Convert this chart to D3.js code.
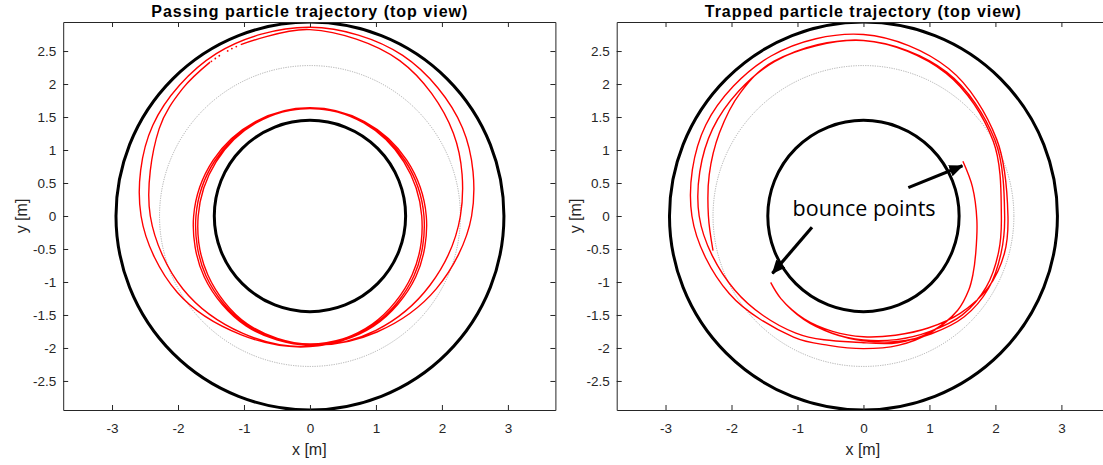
<!DOCTYPE html>
<html><head><meta charset="utf-8">
<script src="https://cdn.jsdelivr.net/npm/d3@7"></script>
<style>
body{margin:0;background:#fff;}
svg{display:block;}
</style></head><body>
<svg id="chart" width="1103" height="465"></svg>
<script>
// ---------------- data ----------------
const xTicks = [-3, -2, -1, 0, 1, 2, 3];
const xTickLabels = ["-3", "-2", "-1", "0", "1", "2", "3"];
const yTicks = [-2.5, -2, -1.5, -1, -0.5, 0, 0.5, 1, 1.5, 2, 2.5];
const yTickLabels = ["-2.5", "-2", "-1.5", "-1", "-0.5", "0", "0.5", "1", "1.5", "2", "2.5"];
const titles = ["Passing particle trajectory (top view)", "Trapped particle trajectory (top view)"];
const xLabel = "x [m]";
const yLabel = "y [m]";
const wallRadii = [1.45, 2.94];     // inner and outer wall (black)
const axisRadii = [2.28];           // magnetic axis (grey dotted)

// passing particle: toroidal angle (deg, unwrapped) and major radius [m]
const passAngles = [123,135,150,180,210,240,270,
  300,330,360,390,420,450,480,510,540,570,600,630,
  660,690,720,750,780,810,840,870,900,930,960,990,
  1020,1050,1080,1110,1140,1170,1200,1230,1260,1290,1320,1350,
  1380,1410,1440,1470,1500,1530,1560,1590,1620,1650,1680,1710,
  1740,1770,1800,1830,1860,1890,1912];
const passRadii = [2.78,2.73,2.64,2.42,2.22,2.05,1.975,
  1.891,1.787,1.694,1.643,1.63,1.63,1.63,1.643,1.694,1.787,1.891,1.94,
  1.91,1.819,1.728,1.667,1.638,1.63,1.638,1.667,1.728,1.819,1.91,1.95,
  2.03,2.21,2.45,2.67,2.81,2.86,2.84,2.75,2.56,2.32,2.08,1.98,
  1.928,1.85,1.763,1.694,1.652,1.64,1.652,1.694,1.763,1.85,1.928,1.96,
  2.00,2.10,2.28,2.51,2.72,2.825,2.80];
const passDotAngles = [113.5, 115, 116.5, 119.5, 121, 122.5];
const passDotRadii = [2.80, 2.80, 2.795, 2.79, 2.785, 2.78];

// trapped particle: toroidal angle (deg, unwrapped) and major radius [m]
const trapAngles = [
  193,180,165,150,135,120,90,60,30,0,-15,-30,-45,-60,-75,-90,-105,-120,-135,-144.4,
  -135,-120,-105,-90,-75,-60,-45,-30,-15,0,30,60,90,120,150,180,210,240,255,270,285,300,315,325,332,342,358,375,388.8,
  375,358,342,332,325,315,300,285,270,240,210,180,150,120,90,60,30,0,-15,-30,-45,-60,-75,-90,-105,-120,-135,-144.4];
const trapRadii = [
  2.34,2.35,2.42,2.52,2.64,2.71,2.66,2.52,2.30,2.14,2.16,2.19,2.16,2.06,1.97,1.89,1.84,1.81,1.77,1.73,
  1.77,1.80,1.81,1.83,1.87,1.96,2.08,2.18,2.21,2.19,2.33,2.58,2.75,2.80,2.76,2.60,2.35,2.12,2.03,2.01,2.03,2.04,2.02,1.95,1.88,1.79,1.72,1.71,1.72,
  1.71,1.72,1.79,1.88,1.95,2.02,2.03,1.99,1.92,2.05,2.25,2.49,2.64,2.70,2.66,2.50,2.27,2.09,2.12,2.15,2.12,2.02,1.94,1.88,1.84,1.80,1.77,1.73];

const arrowTails = [[0.68, 0.43], [-0.78, -0.17]];
const arrowTips = [[1.50, 0.76], [-1.38, -0.87]];
const noteText = "bounce points";
const notePos = [0.01, 0.0];

// ---------------- layout ----------------
const panelX0 = [63.2, 616.7];
const plotW = 492.2, plotTop = 22, plotBottom = 410;
const xDomain = [-3.74, 3.72], yDomain = [-2.94, 2.94];
const axisColor = "#262626";

const svg = d3.select("#chart");
const defs = svg.append("defs");
defs.append("marker").attr("id", "arrowHead")
  .attr("markerUnits", "userSpaceOnUse")
  .attr("viewBox", "0 0 14 12").attr("refX", 13).attr("refY", 6)
  .attr("markerWidth", 14).attr("markerHeight", 12).attr("orient", "auto")
  .append("path").attr("d", "M0,0L14,6L0,12Z").attr("fill", "#000");

function polar(angles, radii) {
  return angles.map((a, i) => [radii[i] * Math.cos(a * Math.PI / 180), radii[i] * Math.sin(a * Math.PI / 180)]);
}

[0, 1].forEach(p => {
  const x0 = panelX0[p];
  const x = d3.scaleLinear().domain(xDomain).range([x0, x0 + plotW]);
  const y = d3.scaleLinear().domain(yDomain).range([plotBottom, plotTop]);
  const g = svg.append("g");

  defs.append("clipPath").attr("id", "clip" + p).append("rect")
    .attr("x", x0).attr("y", plotTop).attr("width", plotW).attr("height", plotBottom - plotTop);
  const plot = g.append("g").attr("clip-path", `url(#clip${p})`);

  const kx = x(1) - x(0), ky = y(0) - y(1);
  plot.selectAll("ellipse.wall").data(wallRadii).enter().append("ellipse")
    .attr("cx", x(0)).attr("cy", y(0)).attr("rx", d => d * kx).attr("ry", d => d * ky)
    .attr("fill", "none").attr("stroke", "#000").attr("stroke-width", 3);
  plot.selectAll("ellipse.axisc").data(axisRadii).enter().append("ellipse")
    .attr("cx", x(0)).attr("cy", y(0)).attr("rx", d => d * kx).attr("ry", d => d * ky)
    .attr("fill", "none").attr("stroke", "#9a9a9a").attr("stroke-width", 0.8)
    .attr("stroke-dasharray", "1.2,1.2");

  const line = d3.line().x(d => x(d[0])).y(d => y(d[1])).curve(d3.curveCatmullRom.alpha(0.5));
  if (p === 0) {
    plot.append("path").attr("d", line(polar(passAngles, passRadii)))
      .attr("fill", "none").attr("stroke", "#ff0000").attr("stroke-width", 1.4);
    plot.selectAll("circle.dot").data(polar(passDotAngles, passDotRadii)).enter().append("circle")
      .attr("cx", d => x(d[0])).attr("cy", d => y(d[1])).attr("r", 0.9).attr("fill", "#ff0000");
  } else {
    plot.append("path").attr("d", line(polar(trapAngles, trapRadii)))
      .attr("fill", "none").attr("stroke", "#ff0000").attr("stroke-width", 1.4);
    plot.selectAll("line.arrow").data(arrowTails).enter().append("line")
      .attr("x1", d => x(d[0])).attr("y1", d => y(d[1]))
      .attr("x2", (d, i) => x(arrowTips[i][0])).attr("y2", (d, i) => y(arrowTips[i][1]))
      .attr("stroke", "#000").attr("stroke-width", 3.2).attr("marker-end", "url(#arrowHead)");
    plot.append("text").attr("x", x(notePos[0])).attr("y", y(notePos[1]))
      .attr("text-anchor", "middle").attr("font-family", "Open Sans")
      .attr("font-size", "21.5px").attr("fill", "#000").text(noteText);
  }

  const style = sel => {
    sel.select(".domain").attr("stroke", axisColor).attr("stroke-width", 1);
    sel.selectAll(".tick line").attr("stroke", axisColor).attr("stroke-width", 1);
    sel.selectAll(".tick text").attr("fill", axisColor)
      .attr("font-family", "Liberation Sans, Arial, sans-serif").attr("font-size", "13.5px");
  };
  g.append("g").attr("transform", `translate(0,${plotBottom})`)
    .call(d3.axisBottom(x).tickValues(xTicks).tickSizeInner(-5).tickSizeOuter(0).tickPadding(13)
      .tickFormat((d, i) => xTickLabels[i])).call(style);
  g.append("g").attr("transform", `translate(0,${plotTop})`)
    .call(d3.axisTop(x).tickValues(xTicks).tickSizeInner(-5).tickSizeOuter(0).tickFormat(() => ""))
    .call(style);
  g.append("g").attr("transform", `translate(${x0},0)`)
    .call(d3.axisLeft(y).tickValues(yTicks).tickSizeInner(-5).tickSizeOuter(0).tickPadding(7)
      .tickFormat((d, i) => yTickLabels[i])).call(style);
  g.append("g").attr("transform", `translate(${x0 + plotW},0)`)
    .call(d3.axisRight(y).tickValues(yTicks).tickSizeInner(-5).tickSizeOuter(0).tickFormat(() => ""))
    .call(style);

  g.append("text").attr("x", x0 + plotW / 2).attr("y", 17).attr("text-anchor", "middle")
    .attr("font-family", "Liberation Sans, Arial, sans-serif").attr("font-weight", "bold")
    .attr("font-size", "16px").attr("fill", "#000")
    .attr("textLength", 316).attr("lengthAdjust", "spacing").text(titles[p]);
  g.append("text").attr("x", x0 + plotW / 2).attr("y", 455).attr("text-anchor", "middle")
    .attr("font-family", "Liberation Sans, Arial, sans-serif").attr("font-size", "16px")
    .attr("fill", axisColor).text(xLabel);
  g.append("text").attr("transform", `translate(${x0 - 36},${(plotTop + plotBottom) / 2}) rotate(-90)`)
    .attr("text-anchor", "middle")
    .attr("font-family", "Liberation Sans, Arial, sans-serif").attr("font-size", "16px")
    .attr("fill", axisColor).text(yLabel);
});
</script>
</body></html>
